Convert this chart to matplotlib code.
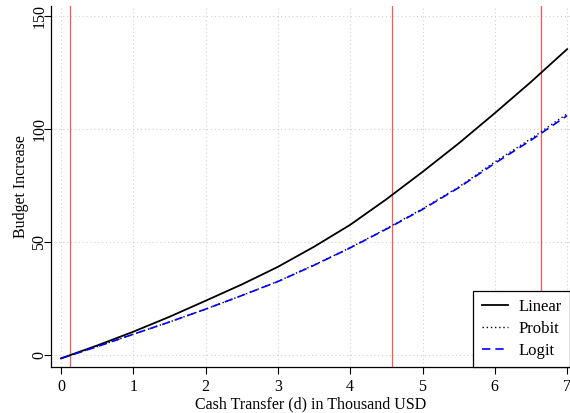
import matplotlib
import matplotlib.pyplot as plt

matplotlib.use('Agg')

plt.rcParams['font.family'] = ['Liberation Serif', 'DejaVu Serif']

# Budget increase by cash transfer, three model fits
transfer = [0, 0.5, 1, 1.5, 2, 2.5, 3, 3.5, 4, 4.5, 5, 5.5, 6, 6.5, 7]
linear = [-1.5, 4.2, 10.3, 16.9, 24.0, 31.2, 39.0, 47.9, 57.6, 68.9, 81.0, 93.6, 107.0, 120.8, 135.3]
probit = [-1.5, 3.7, 9.2, 14.6, 20.3, 26.3, 32.6, 39.8, 47.5, 55.9, 64.7, 74.3, 85.4, 95.7, 106.7]
logit = [-1.5, 3.7, 9.2, 14.6, 20.3, 26.3, 32.5, 39.7, 47.4, 55.7, 64.4, 74.0, 84.8, 95.0, 105.9]

# reference transfer levels
ref_lines = [0.125, 4.58, 6.64]

x_ticks = [0, 1, 2, 3, 4, 5, 6, 7]
y_ticks = [0, 50, 100, 150]

fig = plt.figure(figsize=(5.7, 4.13), dpi=100)
ax = fig.add_axes([0.0895, 0.1114, 0.9105, 0.8741])

ax.set_xlim(-0.138, 7.04)
ax.set_ylim(-5.3, 154.4)

ax.grid(True, color='#d0d0d0', linestyle=(0, (1, 2.5)), linewidth=0.8)
ax.set_axisbelow(True)

for v in ref_lines:
    ax.axvline(v, color='#ff5555', linewidth=0.9)

ax.plot(transfer, linear, color='black', linewidth=1.3, label='Linear')
ax.plot(transfer, probit, color='black', linestyle=(0, (1, 2)), linewidth=1.0, label='Probit')
ax.plot(transfer, logit, color='blue', linestyle=(0, (5, 3)), linewidth=1.2, label='Logit')

ax.set_xticks(x_ticks)
ax.set_yticks(y_ticks)
ax.tick_params(direction='out', length=5, width=0.8, labelsize=11.5)
ax.tick_params(axis='y', pad=3.5)
for lbl in ax.get_yticklabels():
    lbl.set_rotation(90)
    lbl.set_va('center')
    lbl.set_ha('center')

ax.spines['top'].set_visible(False)
ax.spines['right'].set_visible(False)
ax.spines['left'].set_linewidth(0.9)
ax.spines['bottom'].set_linewidth(0.9)

ax.set_xlabel('Cash Transfer (d) in Thousand USD', fontsize=11.5, labelpad=1)
ax.set_ylabel('Budget Increase', fontsize=11.5)
ax.yaxis.set_label_coords(-0.042, 0.5)

leg = ax.legend(loc='lower right', fontsize=12, frameon=True, fancybox=False,
                edgecolor='black', framealpha=1, borderaxespad=0,
                handlelength=1.6, handletextpad=0.6, labelspacing=0.35,
                borderpad=0.5)
leg.get_frame().set_linewidth(0.9)

plt.savefig('out.png', dpi=100)
plt.close()
